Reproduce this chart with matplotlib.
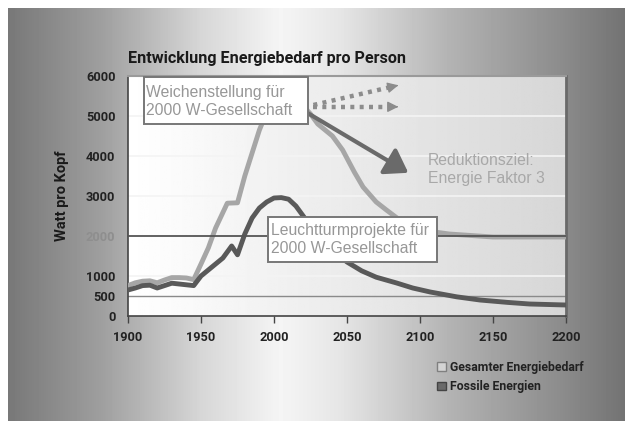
import matplotlib.pyplot as plt
import numpy as np
from matplotlib.patches import Patch, Rectangle

# Gesamter Energiebedarf (Watt pro Kopf)
years_total = [1900, 1905, 1910, 1915, 1920, 1925, 1930, 1935, 1940, 1945, 1950, 1955, 1960,
               1968, 1975, 1980, 1990, 1995, 2000, 2010, 2020, 2025, 2030, 2040, 2047, 2055,
               2061, 2070, 2077, 2085, 2095, 2110, 2120, 2150, 2200]
total = [760, 830, 870, 880, 830, 900, 960, 960, 950, 910, 1300, 1700, 2200,
         2820, 2830, 3500, 4650, 5100, 5400, 5450, 5250, 5050, 4800, 4500, 4150, 3600,
         3225, 2850, 2650, 2430, 2225, 2100, 2050, 1975, 1975]

# Fossile Energien
years_fossil = [1900, 1905, 1910, 1915, 1920, 1925, 1930, 1935, 1940, 1945, 1950, 1955, 1960,
                1965, 1971, 1975, 1980, 1985, 1990, 1995, 2000, 2005, 2010, 2015, 2020, 2030,
                2040, 2050, 2060, 2070, 2084, 2095, 2107, 2125, 2141, 2160, 2175, 2200]
fossil = [650, 700, 760, 770, 700, 760, 820, 800, 780, 760, 1000, 1150, 1300,
          1450, 1750, 1530, 2050, 2450, 2700, 2850, 2950, 2960, 2920, 2750, 2500, 2000,
          1650, 1350, 1130, 970, 825, 700, 600, 480, 400, 340, 300, 275]

yticks = [0, 500, 1000, 2000, 3000, 4000, 5000, 6000]
xticks = [1900, 1950, 2000, 2050, 2100, 2150, 2200]
legend_labels = ['Gesamter Energiebedarf', 'Fossile Energien']

W, H = 625, 421
fig = plt.figure(figsize=(W / 100, H / 100), dpi=100)
fig.patch.set_facecolor('white')

# grey gradient background
bg = fig.add_axes([8 / W, 0, 1 - 8 / W, 1 - 8 / H], zorder=-10)
px = np.arange(8, W)
grad = np.interp(px, [8, 100, 200, 280, 340, 450, 560, 625],
                 [0.47, 0.62, 0.84, 0.96, 0.9, 0.7, 0.55, 0.45])
bg.imshow(grad[np.newaxis, :], cmap='gray', vmin=0, vmax=1, aspect='auto',
          extent=[0, 1, 0, 1])
bg.axis('off')

cond = dict(family=['Liberation Sans Narrow', 'Roboto'], fontweight='bold')

ax = fig.add_axes([128 / W, 1 - 316 / H, 438 / W, 240 / H])
ax.set_facecolor('none')
ax.imshow(np.linspace(1.0, 0.84, 200)[np.newaxis, :], cmap='gray', vmin=0, vmax=1,
          aspect='auto', extent=[1900, 2200, 0, 6000], zorder=0)
ax.set_xlim(1900, 2200)
ax.set_ylim(0, 6000)

for y in [1000, 3000, 4000, 5000]:
    ax.axhline(y, color='#f4f4f4', lw=1.2, zorder=1)
ax.axhline(500, color='#8a8a8a', lw=1.0, zorder=1)
ax.axhline(2000, color='#555555', lw=1.3, zorder=4)

ax.plot(years_total, total, color='#a6a6a6', lw=3.5, zorder=3, solid_joinstyle='round')
ax.plot(years_fossil, fossil, color='#595959', lw=3.5, zorder=3, solid_joinstyle='round')

# arrows
dot_col = '#8c8c8c'
for (x0, y0), (x1, y1) in [((2027, 5275), (2083, 5750)), ((2027, 5230), (2083, 5230))]:
    ax.plot([x0, x1], [y0, y1], color=dot_col, lw=3.2, dashes=(0.9, 1.2), zorder=5)
    k = (y1 - y0) / (x1 - x0)
    ax.annotate('', xy=(x1 + 4, y1 + k * 4), xytext=(x1 - 1, y1 - k),
                arrowprops=dict(arrowstyle='-|>', color=dot_col, mutation_scale=16, lw=1), zorder=5)
ax.annotate('', xy=(2092, 3580), xytext=(2023, 5075),
            arrowprops=dict(arrowstyle='-|>,head_length=0.9,head_width=0.6', color='#6a6a6a',
                            lw=3, mutation_scale=15, shrinkA=0, shrinkB=0), zorder=5)

# annotation boxes
for (x0, y0, x1, y1) in [(1911, 4800, 2023.6, 5975), (1995.9, 1350, 2111.6, 2475)]:
    ax.add_patch(Rectangle((x0, y0), x1 - x0, y1 - y0, facecolor='white', edgecolor='#777777',
                           lw=1.4, zorder=6))
txt = dict(fontsize=11.3, family='Liberation Sans', va='center', ha='left', linespacing=1.22, zorder=7)
ax.text(1912.3, 5365, 'Weichenstellung für\n2000 W-Gesellschaft', color='#979797', **txt)
ax.text(1998, 1905, 'Leuchtturmprojekte für\n2000 W-Gesellschaft', color='#979797', **txt)
ax.text(2105.5, 3655, 'Reduktionsziel:\nEnergie Faktor 3', color='#a8a8a8', **txt)

ax.set_xticks(xticks)
ax.set_yticks(yticks)
ax.set_xticklabels([str(x) for x in xticks], fontsize=9.2, color='#222222', **cond)
ax.set_yticklabels([str(y) for y in yticks], fontsize=9.2, color='#222222', **cond)
ax.get_yticklabels()[3].set_color('#8e8e8e')
ax.tick_params(axis='x', length=5, width=1, color='#444444', pad=6)
ax.tick_params(axis='y', length=0, pad=9)

for s in ['left', 'bottom']:
    ax.spines[s].set_color('#444444')
    ax.spines[s].set_linewidth(1.2)
ax.spines['top'].set_color('#9a9a9a')
ax.spines['top'].set_linewidth(1.5)
ax.spines['right'].set_color('#6a6a6a')
ax.spines['right'].set_linewidth(2)

fig.text(128 / W, 1 - 58 / H, 'Entwicklung Energiebedarf pro Person', fontsize=11.6,
         color='#1a1a1a', va='center', ha='left', **cond)
fig.text(62 / W, 1 - 196 / H, 'Watt pro Kopf', fontsize=10.5, color='#1a1a1a', rotation=90,
         va='center', ha='center', **cond)

handles = [Patch(facecolor='#d4d4d4', edgecolor='#808080', lw=1),
           Patch(facecolor='#6a6a6a', edgecolor='#444444', lw=1)]
leg = fig.legend(handles, legend_labels, loc='upper left', bbox_to_anchor=(426 / W, 1 - 350 / H),
                 frameon=False, handlelength=0.7, handleheight=0.7, handletextpad=0.4,
                 labelspacing=0.5, prop=dict(size=8.8, weight='bold',
                                             family=['Liberation Sans Narrow', 'Roboto']))
for t in leg.get_texts():
    t.set_color('#222222')

fig.savefig('out.png', dpi=100)
